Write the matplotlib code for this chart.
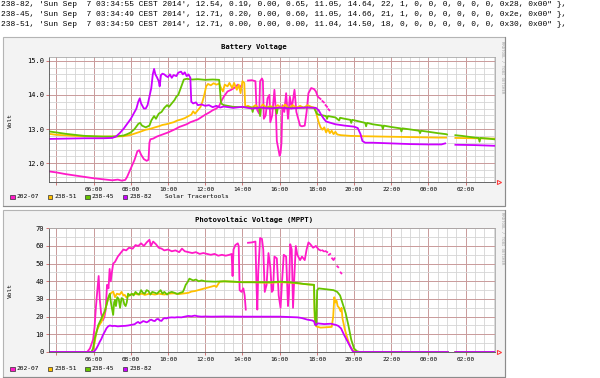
import numpy as np
import matplotlib
matplotlib.use("Agg")
import matplotlib.pyplot as plt
from matplotlib.patches import Rectangle

nan = np.nan

# raw dump lines printed above the graphs
header_lines = [
    "238-82, 'Sun Sep  7 03:34:55 CEST 2014', 12.54, 0.19, 0.00, 0.65, 11.05, 14.64, 22, 1, 0, 0, 0, 0, 0, 0, 0x28, 0x00\" },",
    "238-45, 'Sun Sep  7 03:34:49 CEST 2014', 12.71, 0.20, 0.00, 0.60, 11.05, 14.66, 21, 1, 0, 0, 0, 0, 0, 0, 0x2e, 0x00\" },",
    "238-51, 'Sun Sep  7 03:34:59 CEST 2014', 12.71, 0.00, 0.00, 0.00, 11.04, 14.50, 18, 0, 0, 0, 0, 0, 0, 0, 0x30, 0x00\" },",
]

names = ["202-07", "238-51", "238-45", "238-82"]
colors = ["#ff1ac8", "#ffc000", "#66c400", "#cc00ff"]

# time axis: hours since midnight Sep 6 (24h window ending 03:35)
t_start, t_end = 3.6, 27.58
hour_ticks = [4, 6, 8, 10, 12, 14, 16, 18, 20, 22, 24, 26]
hour_labels = ["", "06:00", "08:00", "10:00", "12:00", "14:00", "16:00",
               "18:00", "20:00", "22:00", "00:00", "02:00"]

########## Battery Voltage ##########
bat_t_20207 = [3.6, 4.0, 4.5, 5.0, 5.5, 6.0, 6.5, 7.0, 7.3, 7.5, 7.7, 7.8, 8.0, 8.2, 8.35, 8.45, 8.55,
               8.7, 8.85, 8.95, 9.0, 9.05, 9.2, 9.4, 9.6, 9.8, 10.0, 10.2, 10.4, 10.6, 10.8, 11.0, 11.2,
               11.4, 11.6, 11.8, 12.0, 12.2, 12.4, 12.6, 12.75, 12.9, 13.0, 13.2, 13.4, 13.6, 13.75,
               13.85, 13.95, 14.1, 14.3, 14.5, 14.7, 14.75, 14.8, 14.9, 14.95, 15.05, 15.1, 15.15,
               15.25, 15.35, 15.45, 15.5, 15.6, 15.72, 15.8, 15.85, 15.92, 16.0, 16.05, 16.1, 16.15,
               16.25, 16.35, 16.45, 16.55, 16.65, 16.8, 16.9, 17.0, 17.1, 17.2, 17.35, 17.45, 17.55,
               17.7, 17.85, 17.95, 18.05, 18.2, 18.25, 18.3, 18.38, 18.41, 18.47, 18.55, 18.58, 18.62, 18.68]
bat_v_20207 = [11.76, 11.73, 11.68, 11.64, 11.6, 11.56, 11.53, 11.5, 11.52, 11.49, 11.51, 11.6, 11.85,
               12.1, 12.35, 12.38, 12.25, 12.12, 12.07, 12.1, 12.6, 12.7, 12.72, 12.78, 12.82, 12.86,
               12.9, 12.95, 13.0, 13.06, 13.1, 13.14, 13.2, 13.24, 13.28, 13.35, 13.42, 13.48, 13.55,
               13.6, 13.68, 13.85, 13.95, 14.1, 14.15, 14.22, 14.3, 14.22, 14.28, nan, 14.42, 14.43,
               14.4, 13.7, 13.55, 13.45, 14.4, 14.48, 14.42, 13.3, 13.4, 13.9, 14.0, 13.2, 13.4, 14.15,
               13.5, 12.65, 12.45, 12.22, 12.3, 12.6, 13.7, 13.5, 14.05, 13.3, 13.95, 13.6, 14.15, 13.5,
               13.3, 13.1, 13.08, 13.1, 13.5, 14.05, 14.2, 14.17, 14.1, 13.95, 13.88, nan, 13.82, 13.78,
               nan, 13.7, 13.65, nan, 13.58, 13.55]

bat_t_23851 = [3.6, 4.0, 5.0, 6.0, 7.0, 7.6, 8.0, 8.5, 8.8, 9.0, 9.3, 9.5, 9.7, 9.9, 10.1, 10.3, 10.5,
               10.7, 10.9, 11.1, 11.25, 11.35, 11.45, 11.6, 11.75, 11.85, 11.95, 12.05, 12.15, 12.3,
               12.45, 12.6, 12.75, 12.85, 12.95, 13.05, 13.2, 13.3, 13.45, 13.55, 13.7, 13.8, 13.9,
               14.0, 14.1, 14.15, 14.3, 14.5, 14.7, 14.9, 15.1, 15.3, 15.5, 15.7, 15.9, 16.1, 16.3,
               16.5, 16.7, 16.9, 17.1, 17.3, 17.5, 17.7, 17.9, 18.0, 18.1, 18.2, 18.3, 18.4, 18.5,
               18.6, 18.7, 18.8, 18.9, 19.0, 19.1, 19.3, 19.8, 20.5, 21.5, 22.5, 23.5, 24.5, 24.95,
               25.2, 25.45, 26.5, 27.55]
bat_v_23851 = [12.86, 12.83, 12.8, 12.78, 12.78, 12.79, 12.83, 12.92, 12.98, 13.0, 13.05, 13.08, 13.12,
               13.14, 13.17, 13.2, 13.25, 13.28, 13.32, 13.38, 13.42, 13.52, 13.45, 13.55, 13.65, 13.8,
               14.0, 14.25, 14.32, 14.28, 14.34, 14.3, 14.33, 14.2, 14.1, 14.3, 14.25, 14.35, 14.2,
               14.35, 14.15, 14.3, 14.05, 14.4, 14.35, 13.65, 13.68, 13.62, 13.7, 13.6, 13.72, 13.62,
               13.68, 13.6, 13.7, 13.62, 13.72, 13.6, 13.7, 13.62, 13.68, 13.62, 13.7, 13.65, 13.62,
               13.4, 13.2, 13.05, 12.98, 13.05, 12.9, 13.0, 12.88, 12.95, 12.85, 12.92, 12.84, 12.82,
               12.8, 12.79, 12.78, 12.77, 12.76, 12.75, 12.75, nan, 12.74, 12.73, 12.72]

bat_t_23845 = [3.6, 4.0, 4.5, 5.0, 5.5, 6.0, 6.5, 7.0, 7.3, 7.6, 7.8, 8.0, 8.2, 8.4, 8.5, 8.6, 8.8, 9.0,
               9.1, 9.25, 9.35, 9.5, 9.65, 9.8, 9.95, 10.05, 10.2, 10.35, 10.45, 10.55, 10.65, 10.75,
               10.85, 11.0, 11.3, 11.6, 12.0, 12.4, 12.75, 12.85, 13.0, 13.5, 14.0, 14.5, 14.55, 14.6,
               14.9, 14.95, 15.0, 15.5, 15.8, 15.85, 15.9, 16.5, 17.0, 17.5, 17.85, 18.0, 18.1, 18.3,
               18.5, 18.55, 18.6, 19.0, 19.2, 19.25, 19.5, 19.8, 19.85, 19.9, 20.3, 20.6, 20.65, 20.7,
               21.0, 21.5, 21.55, 21.6, 22.0, 22.5, 22.55, 22.6, 23.0, 23.5, 23.55, 23.6, 24.0, 24.5,
               24.95, 25.0, 25.2, 25.45, 25.8, 26.2, 26.5, 26.7, 26.75, 26.8, 27.2, 27.55]
bat_v_23845 = [12.93, 12.9, 12.86, 12.83, 12.8, 12.79, 12.78, 12.78, 12.79, 12.81, 12.85, 12.9, 13.0,
               13.15, 13.18, 13.1, 13.05, 13.1, 13.25, 13.38, 13.3, 13.45, 13.5, 13.62, 13.7, 13.65,
               13.75, 13.85, 13.95, 14.0, 14.15, 14.3, 14.45, 14.47, 14.45, 14.46, 14.44, 14.45, 14.44,
               13.75, 13.7, 13.65, 13.64, 13.63, 13.5, 13.63, 13.62, 13.38, 13.62, 13.63, 13.62, 13.45,
               13.62, 13.62, 13.62, 13.63, 13.62, 13.45, 13.42, 13.4, 13.38, 13.3, 13.38, 13.34, 13.25,
               13.33, 13.3, 13.27, 13.18, 13.27, 13.22, 13.18, 13.08, 13.18, 13.14, 13.1, 13.0, 13.1,
               13.06, 13.02, 12.93, 13.02, 12.99, 12.95, 12.88, 12.95, 12.92, 12.88, 12.85, 12.84, nan,
               12.82, 12.8, 12.77, 12.75, 12.74, 12.63, 12.74, 12.72, 12.7]

bat_t_23882 = [3.6, 4.5, 5.5, 6.5, 7.0, 7.2, 7.4, 7.6, 7.8, 8.0, 8.15, 8.3, 8.4, 8.48, 8.55, 8.7, 8.8,
               8.9, 9.0, 9.1, 9.18, 9.25, 9.32, 9.4, 9.5, 9.55, 9.62, 9.7, 9.8, 9.9, 10.0, 10.1, 10.2,
               10.3, 10.45, 10.55, 10.7, 10.8, 10.9, 11.0, 11.1, 11.2, 11.25, 11.35, 11.5, 11.6, 11.8,
               12.0, 12.2, 12.4, 12.6, 12.8, 13.0, 13.5, 14.0, 14.5, 15.0, 15.5, 16.0, 16.5, 17.0,
               17.5, 17.95, 18.1, 18.2, 18.35, 18.5, 19.0, 19.5, 20.0, 20.2, 20.35, 20.45, 20.6, 21.0,
               22.0, 23.0, 24.0, 24.7, 24.9, 25.2, 25.45, 26.5, 27.55]
bat_v_23882 = [12.71, 12.72, 12.73, 12.73, 12.74, 12.78, 12.88, 13.0, 13.15, 13.3, 13.45, 13.6, 13.8,
               13.9, 13.75, 13.6, 13.6, 13.7, 13.95, 14.2, 14.6, 14.76, 14.6, 14.52, 14.4, 14.25, 14.58,
               14.62, 14.6, 14.55, 14.52, 14.6, 14.5, 14.58, 14.55, 14.65, 14.68, 14.6, 14.66, 14.55,
               14.6, 14.5, 13.8, 13.75, 13.78, 13.7, 13.72, 13.68, 13.7, 13.64, 13.68, 13.63, 13.66,
               13.62, 13.65, 13.6, 13.63, 13.6, 13.63, 13.6, 13.62, 13.63, 13.62, 13.55, 13.45, 13.32,
               13.22, 13.14, 13.1, 13.07, 13.03, 12.85, 12.65, 12.6, 12.6, 12.58, 12.56, 12.55, 12.55,
               12.58, nan, 12.54, 12.53, 12.51]

########## Photovoltaic Voltage ##########
pv_t_20207 = [3.6, 5.65, 5.8, 5.97, 6.05, 6.12, 6.2, 6.27, 6.33, 6.4, 6.5, 6.58, 6.65, 6.72, 6.8, 6.86,
              6.92, 6.98, 7.05, 7.15, 7.3, 7.45, 7.6, 7.75, 7.9, 8.1, 8.25, 8.4, 8.55, 8.7, 8.85, 9.0,
              9.08, 9.2, 9.35, 9.5, 9.65, 9.8, 10.0, 10.2, 10.4, 10.6, 10.75, 10.9, 11.1, 11.3, 11.5,
              11.7, 11.9, 12.1, 12.3, 12.5, 12.7, 12.9, 13.1, 13.3, 13.42, 13.47, 13.52, 13.62, 13.75,
              13.8, 13.85, 13.95, 14.05, 14.12, 14.18, 14.25, 14.3, 14.5, 14.7, 14.75, 14.8, 14.85,
              14.95, 15.05, 15.12, 15.2, 15.3, 15.4, 15.5, 15.58, 15.65, 15.72, 15.85, 15.95, 16.05,
              16.12, 16.22, 16.35, 16.45, 16.5, 16.57, 16.65, 16.72, 16.8, 16.87, 16.95, 17.1, 17.2,
              17.35, 17.45, 17.55, 17.65, 17.8, 17.95, 18.1, 18.2, 18.25, 18.3, 18.38, 18.43, 18.48,
              18.56, 18.6, 18.65, 18.72, 18.77, 18.82, 18.9, 18.95, 19.02, 19.1, 19.15, 19.22, 19.28, 19.32]
pv_v_20207 = [0, 0, 2, 7, 14, 25, 35, 43, 30, 22, 18, 20, 24, 38, 36, 47, 40, 45, 50, 51, 54, 56, 58,
              57.5, 59, 58.5, 60.5, 60, 61.5, 60, 62, 63.5, 60, 62.5, 61, 59, 58.5, 57.5, 58, 57, 57.5,
              56.5, 58.5, 57, 56.5, 56, 56.5, 55.5, 56, 55.5, 55, 55.5, 54.5, 55, 54.5, 55, 55.5, 43,
              58, 60.5, 61.5, 60, 35, 34, 36, 32, 24, nan, 61.8, 62, 62.5, 40, 24, 45, 64.5, 64, 58, 34,
              38, 56, 48, 34, 35, 54, 53, 32, 25, 38, 55, 54, 26, 33, 61, 58, 25, 45, 60, 55, 52, 54, 52,
              58, 62, 61, 59, 60, 58, 57.5, nan, 57.5, 57, nan, 57, 56.5, nan, 55, 55.5, nan, 53, 52, 53,
              nan, 48.5, 48, nan, 45, 44.5]

pv_t_23851 = [3.6, 5.9, 5.97, 6.05, 6.15, 6.25, 6.35, 6.42, 6.55, 6.69, 6.78, 6.87, 6.95, 7.05, 7.15,
              7.25, 7.4, 7.5, 7.6, 7.67, 7.75, 7.85, 8.0, 8.2, 8.4, 8.6, 8.75, 9.0, 9.3, 9.5, 9.8, 10.0,
              10.3, 10.6, 10.9, 11.1, 11.26, 11.45, 11.62, 11.8, 11.97, 12.15, 12.33, 12.5, 12.6, 12.7,
              12.78, 13.05, 13.5, 14.0, 14.5, 15.0, 15.5, 16.0, 16.5, 17.0, 17.5, 17.85, 17.88, 17.92,
              17.97, 18.2, 18.5, 18.8, 18.88, 18.94, 19.0, 19.06, 19.12, 19.2, 19.28, 19.33, 19.38,
              19.5, 19.65, 19.8, 19.95, 20.1, 25.05, 25.25, 25.45, 27.55]
pv_v_23851 = [0, 0, 1.5, 5, 11.5, 14, 16, 17, 21, 26.6, 30, 32.3, 33.5, 34.2, 31, 33, 32.5, 34, 32, 32.3,
              31, 31.5, 32.5, 33, 32.5, 33, 32.3, 33, 32.5, 33, 32.5, 33, 33.2, 32.8, 33.2, 33.5, 34.2,
              34.5, 35, 35.5, 36, 36.5, 37, 37.5, 36.8, 38.5, 39.8, 40, 39.8, 39.5, 39.5, 39.3, 39.2,
              39.5, 39.3, 38.8, 38.3, 38, 20, 16, 14.5, 13.8, 14, 14.2, 20, 31, 28, 29, 26, 25, 23, 25,
              19, 13, 7.5, 3, 0.8, 0, 0, nan, 0, 0]

pv_t_23845 = [3.6, 5.88, 5.97, 6.06, 6.15, 6.24, 6.33, 6.42, 6.5, 6.6, 6.7, 6.78, 6.87, 6.93, 6.98, 7.05,
              7.1, 7.15, 7.2, 7.27, 7.35, 7.42, 7.5, 7.58, 7.65, 7.72, 7.78, 7.85, 7.95, 8.05, 8.15, 8.25,
              8.35, 8.45, 8.55, 8.65, 8.75, 8.85, 8.95, 9.05, 9.15, 9.3, 9.4, 9.5, 9.6, 9.7, 9.8, 9.95,
              10.05, 10.2, 10.35, 10.5, 10.65, 10.8, 10.88, 10.95, 11.05, 11.15, 11.25, 11.35, 11.5,
              11.65, 11.8, 12.0, 12.5, 13.0, 13.5, 14.0, 14.5, 15.0, 15.5, 16.0, 16.5, 17.0, 17.3, 17.6,
              17.85, 17.88, 17.92, 17.97, 18.02, 18.1, 18.5, 18.9, 19.1, 19.25, 19.4, 19.55, 19.7, 19.85,
              20.0, 20.15, 20.3, 25.05, 25.25, 25.45, 27.55]
pv_v_23845 = [0, 0, 2, 7.7, 11, 15, 17, 19, 21, 23, 27, 30.5, 33, 28, 25, 21, 28, 29.5, 26, 31, 30, 25,
              30.5, 30, 27, 26, 28, 33, 32, 33, 32, 34, 33, 32.5, 35, 33.5, 33, 35, 34.5, 32.5, 34, 33.5,
              33, 34, 35, 33, 34, 32.5, 33.5, 34, 33.5, 32.8, 33.5, 34, 36, 38, 39.5, 41.5, 41, 40.5, 41,
              40, 40.5, 40, 39.8, 40, 39.8, 39.5, 39.5, 39.5, 39.5, 39.8, 39.5, 39.0, 38.5, 38.2, 38, 24,
              17, 15, 35, 36, 35.5, 35, 34, 32, 27, 22, 15, 7, 2, 0.5, 0, 0, nan, 0, 0]

pv_t_23882 = [3.6, 5.95, 6.05, 6.15, 6.25, 6.33, 6.42, 6.5, 6.6, 6.69, 6.78, 6.87, 7.0, 7.14, 7.3, 7.5,
              7.7, 7.85, 8.0, 8.2, 8.3, 8.39, 8.48, 8.57, 8.66, 8.75, 8.85, 8.93, 9.02, 9.1, 9.2, 9.29,
              9.38, 9.47, 9.56, 9.65, 9.74, 9.82, 9.92, 10.0, 10.2, 10.36, 10.5, 10.72, 10.9, 11.08,
              11.26, 11.44, 11.6, 11.8, 12.0, 12.33, 13.0, 14.0, 15.0, 16.0, 16.97, 17.2, 17.5, 17.77,
              17.86, 17.9, 17.95, 18.04, 18.4, 18.76, 19.03, 19.15, 19.3, 19.47, 19.66, 19.8, 19.92,
              20.0, 25.05, 25.25, 25.45, 27.55]
pv_v_23882 = [0, 0, 0.5, 2, 4, 5.8, 7.5, 9.6, 11.5, 13.4, 14.5, 15, 14.7, 14.8, 14.5, 14.7, 14.8, 15,
              15.3, 15.7, 16.5, 17, 16.3, 16.8, 17.5, 17.2, 16.8, 17.2, 18, 18.3, 17.7, 17.5, 18.5, 18.7,
              17.8, 17.6, 18.8, 19.2, 19, 19.4, 19.6, 19.5, 19.7, 19.6, 20.0, 20.4, 20.2, 20.6, 20.2,
              20.0, 20.1, 20.0, 20.1, 20.0, 20.0, 20.0, 19.6, 19.2, 18.3, 17.8, 17.2, 15.5, 15.2, 16.2,
              15.8, 16, 15.3, 14.8, 13.4, 9.6, 5.8, 3, 0.6, 0, 0, nan, 0, 0]

battery = [(bat_t_20207, bat_v_20207), (bat_t_23851, bat_v_23851),
           (bat_t_23845, bat_v_23845), (bat_t_23882, bat_v_23882)]
pv = [(pv_t_20207, pv_v_20207), (pv_t_23851, pv_v_23851),
      (pv_t_23845, pv_v_23845), (pv_t_23882, pv_v_23882)]

W, H = 600, 378
MONO = "DejaVu Sans Mono"

fig = plt.figure(figsize=(6, 3.78), dpi=100)
fig.patch.set_facecolor("white")

# background layer in pixel coordinates
bg = fig.add_axes([0, 0, 1, 1])
bg.set_xlim(0, W)
bg.set_ylim(H, 0)
bg.axis("off")

for i, line in enumerate(header_lines):
    bg.text(1, 4.8 + i * 9.6, line, family="Liberation Mono", fontsize=5.7, va="center", ha="left")

for y0, y1 in [(37, 206), (210, 377)]:
    bg.add_patch(Rectangle((3, y0), 502, y1 - y0, facecolor="#f3f3f3", edgecolor="#b4b4b4", lw=0.8))
    bg.plot([505, 505, 3], [y0, y1, y1], color="#8c8c8c", lw=0.8)


def px_axes(x0, y0, x1, y1):
    return fig.add_axes([x0 / W, 1 - y1 / H, (x1 - x0) / W, (y1 - y0) / H])


def setup(ax, ylim, ymaj, ymin, yfmt):
    ax.set_facecolor("white")
    ax.set_xlim(t_start, t_end)
    ax.set_ylim(*ylim)
    ax.set_xticks(hour_ticks)
    ax.set_xticklabels(hour_labels, family=MONO, fontsize=4.3)
    ax.set_xticks(np.arange(4, 27.6, 0.5), minor=True)
    ax.set_yticks(ymaj)
    ax.set_yticklabels([yfmt % v for v in ymaj], family=MONO, fontsize=5)
    ax.set_yticks(ymin, minor=True)
    ax.grid(which="minor", color="#d4d4d4", lw=0.6)
    ax.grid(which="major", color="#c99a9a", lw=0.7)
    ax.set_axisbelow(True)
    ax.tick_params(which="minor", length=0)
    ax.tick_params(which="major", length=2, width=0.6, color="#c86060", pad=1.5)
    for s in ax.spines.values():
        s.set_color("#a8a8a8")
        s.set_linewidth(0.6)
    ax.spines["left"].set_color("#505050")
    ax.spines["bottom"].set_color("#505050")


ax1 = px_axes(49, 57.3, 495, 182)
setup(ax1, (11.45, 15.1), [12, 13, 14, 15], np.arange(11.6, 15.05, 0.2), "%.1f")
for (t, v), c in zip(battery, colors):
    ax1.plot(t, v, color=c, lw=1.3)

ax2 = px_axes(49, 228.3, 495, 352)
setup(ax2, (0, 70), list(range(0, 71, 10)), list(range(5, 70, 10)), "%d")
for (t, v), c in zip(pv, colors):
    ax2.plot(t, v, color=c, lw=1.3)

# titles, axis labels, legends, watermark
bg.text(254, 47, "Battery Voltage", ha="center", va="center", family=MONO, fontsize=5.2, weight="bold")
bg.text(254, 220, "Photovoltaic Voltage (MPPT)", ha="center", va="center", family=MONO, fontsize=5.2, weight="bold")
for yv in [120, 291]:
    bg.text(10, yv, "Volt", rotation=90, ha="center", va="center", family=MONO, fontsize=4.4)
for yv in [41, 212]:
    bg.text(502, yv, "RRDTOOL / TOBI OETIKER", rotation=270, ha="center", va="top",
            family=MONO, fontsize=2.9, color="#9a9a9a")
for ya in [182, 352]:
    bg.plot(499, ya, marker=">", ms=3, mfc="none", mec="#ff3030", mew=0.7)

sq_x = [12.7, 50, 87.5, 125]
for ly, extra in [(197, True), (369, False)]:
    for x, name, c in zip(sq_x, names, colors):
        bg.add_patch(Rectangle((x - 2.3, ly - 2.3), 4.6, 4.6, facecolor=c, edgecolor="#303030", lw=0.5))
        bg.text(x + 4, ly, name, va="center", ha="left", family=MONO, fontsize=4.5)
    if extra:
        bg.text(165, ly, "Solar Tracertools", va="center", ha="left", family=MONO, fontsize=4.5)

fig.savefig("out.png", dpi=100)
